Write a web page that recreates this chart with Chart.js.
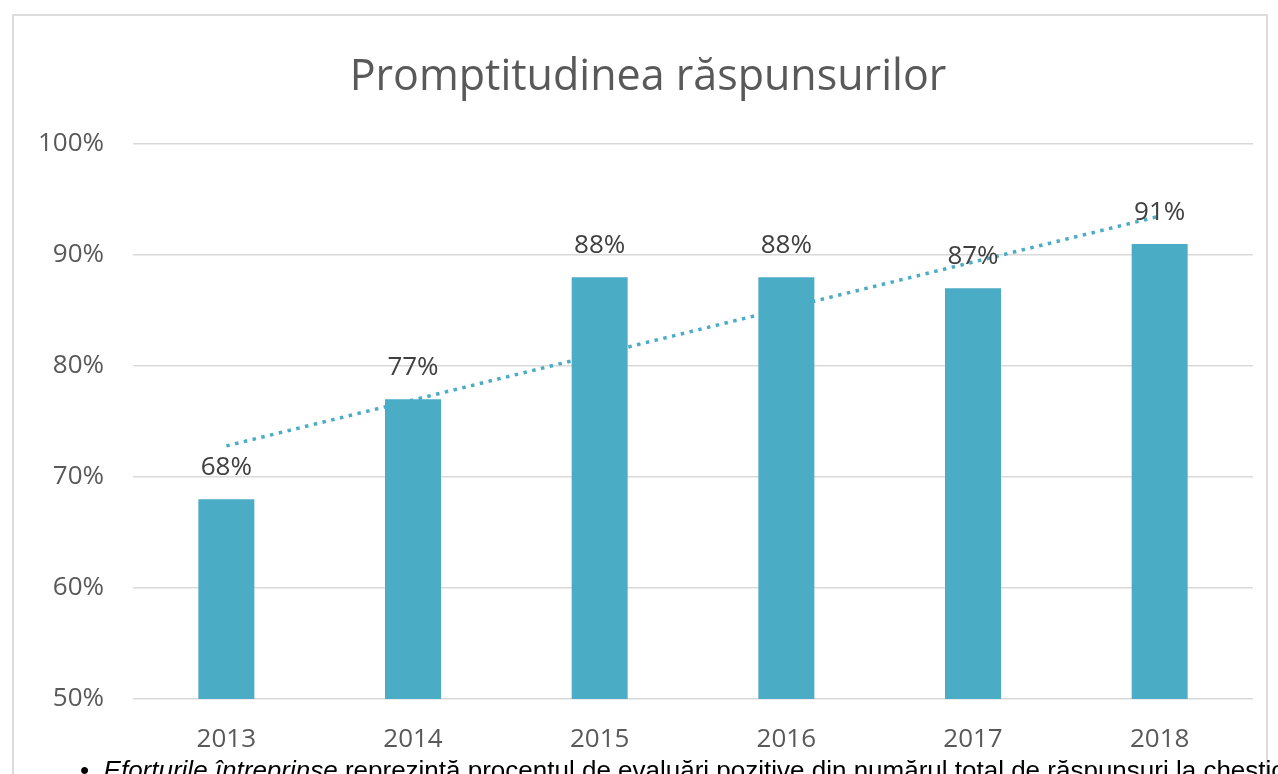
<!DOCTYPE html>
<html>
<head>
<meta charset="utf-8">
<script src="https://cdn.jsdelivr.net/npm/chart.js@4.4.1/dist/chart.umd.min.js"></script>
<style>
  html, body { margin: 0; padding: 0; width: 1278px; height: 774px; overflow: hidden; background: #fff; }
  #frame { position: absolute; left: 12px; top: 14px; width: 1256px; height: 800px; border: 2px solid #dcdcdc; box-sizing: border-box; }
  #wrap { position: absolute; left: 0; top: 0; width: 1278px; height: 774px; }
  #note { position: absolute; left: 80px; top: 755px; font-family: "Liberation Sans", Arial, sans-serif; font-size: 26px; color: #000; white-space: nowrap; line-height: 30px; }
  #note i { font-style: italic; }
</style>
</head>
<body>
<div id="frame"></div>
<div id="wrap"><canvas id="c" width="1278" height="774"></canvas></div>
<div id="note">&#8226;&nbsp;&nbsp;<i>Eforturile întreprinse</i> reprezintă procentul de evaluări pozitive din numărul total de răspunsuri la chestionar</div>
<script>
const chartTitle = "Promptitudinea răspunsurilor";
const years = ["2013", "2014", "2015", "2016", "2017", "2018"];
const promptness = [68, 77, 88, 88, 87, 91];
// dotted linear trend line (ends only)
const trendEnds = [72.8, null, null, null, null, 93.5];
const yTicks = [50, 60, 70, 80, 90, 100];

const FONT = '"Open Sans", sans-serif';
const GRAY = '#595959';
const BAR = '#4BACC6';

const labelPlugin = {
  id: 'labels',
  afterDatasetsDraw(chart) {
    const ctx = chart.ctx;
    const meta = chart.getDatasetMeta(1);
    ctx.save();
    ctx.font = '26px ' + FONT;
    ctx.fillStyle = '#404040';
    ctx.textAlign = 'center';
    ctx.textBaseline = 'alphabetic';
    meta.data.forEach((el, i) => {
      ctx.fillText(promptness[i] + '%', el.x, el.y - 24);
    });
    ctx.restore();
  }
};
const titlePlugin = {
  id: 'ttl',
  afterDraw(chart) {
    const ctx = chart.ctx;
    ctx.save();
    ctx.font = '43px ' + FONT;
    ctx.fillStyle = GRAY;
    ctx.textAlign = 'center';
    ctx.textBaseline = 'alphabetic';
    ctx.fillText(chartTitle, 648, 90);
    ctx.restore();
  }
};

new Chart(document.getElementById('c'), {
  data: {
    labels: years,
    datasets: [
      {
        type: 'line',
        data: trendEnds,
        spanGaps: true,
        borderColor: BAR,
        borderWidth: 3.5,
        borderDash: [3.5, 5.5],
        pointRadius: 0,
        fill: false,
        order: 2
      },
      {
        type: 'bar',
        data: promptness,
        backgroundColor: BAR,
        categoryPercentage: 1,
        barPercentage: 0.3,
        order: 1
      }
    ]
  },
  options: {
    responsive: false,
    animation: false,
    layout: { padding: { top: 144, right: 25, left: 0, bottom: 0 } },
    plugins: { legend: { display: false }, tooltip: { enabled: false }, title: { display: false } },
    scales: {
      x: {
        grid: { display: false, drawTicks: false },
        border: { display: false },
        ticks: { font: { family: FONT, size: 26 }, color: GRAY, padding: 25 },
        afterFit(s) { s.height = 75; }
      },
      y: {
        min: 50, max: 100,
        afterBuildTicks(s) { s.ticks = yTicks.map(v => ({ value: v })); },
        grid: { color: '#d9d9d9', lineWidth: 1.5, drawTicks: false },
        border: { display: false },
        ticks: { font: { family: FONT, size: 26 }, color: GRAY, padding: 29, callback: v => v + '%' },
        afterFit(s) { s.width = 133; }
      }
    }
  },
  plugins: [labelPlugin, titlePlugin]
});
</script>
</body>
</html>
